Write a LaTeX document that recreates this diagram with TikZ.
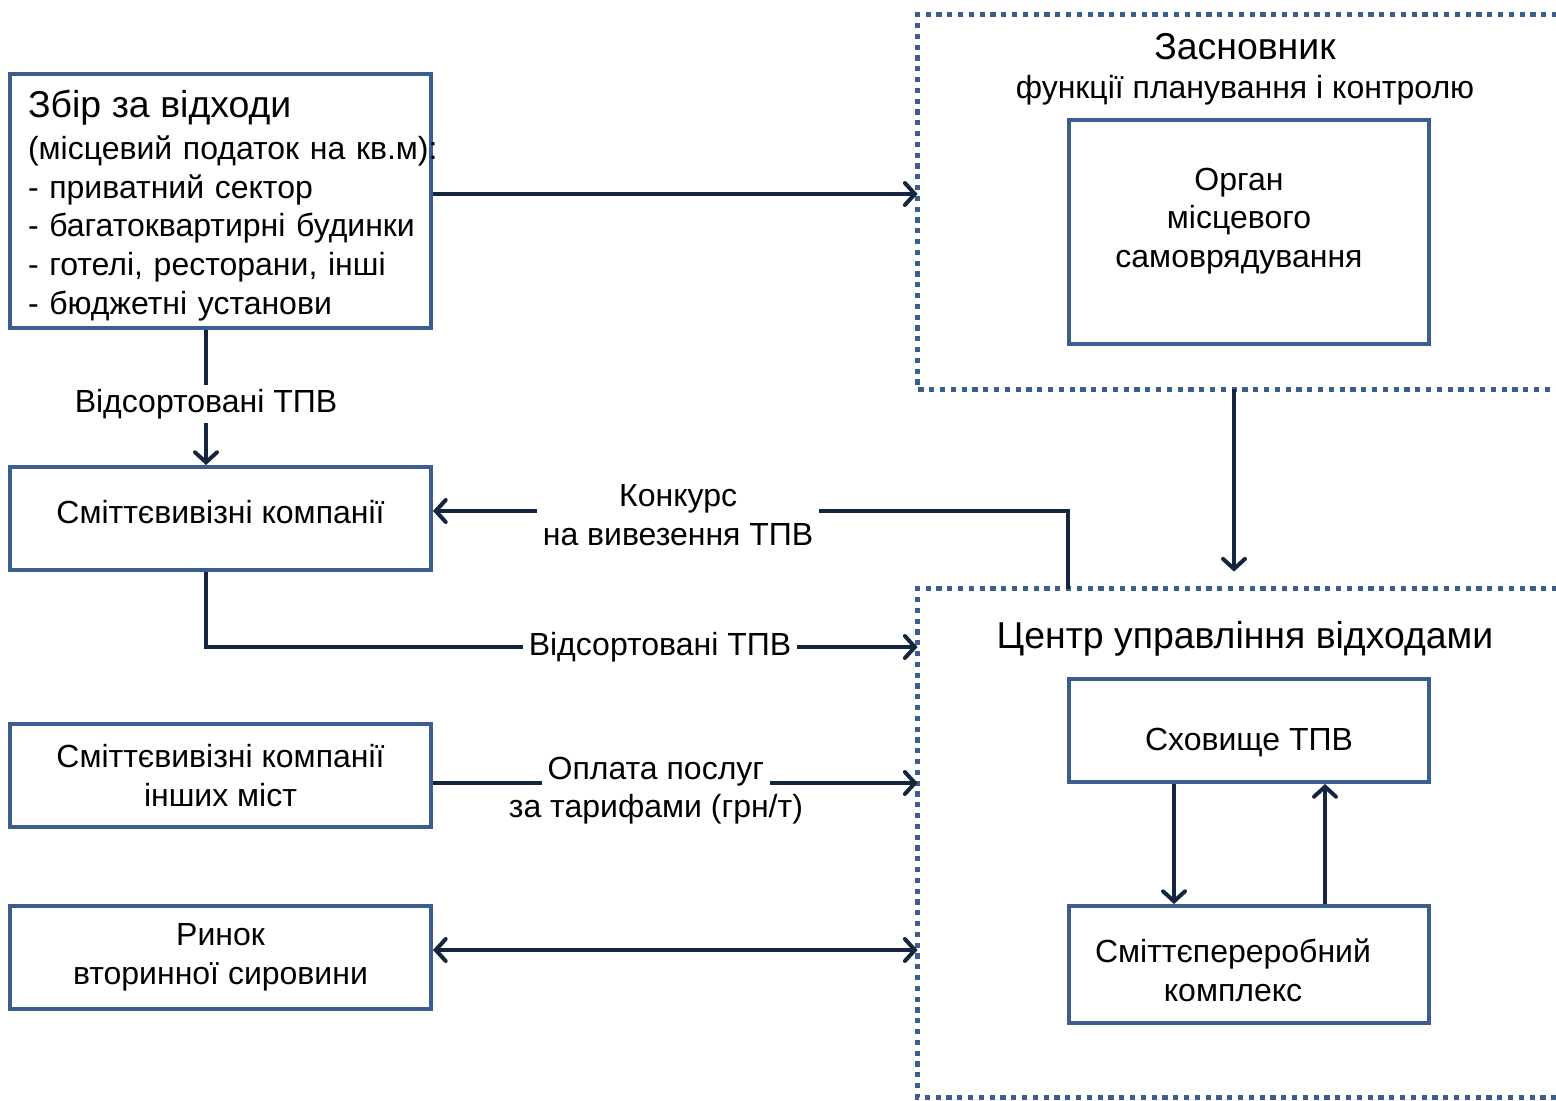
\documentclass[tikz,border=0pt]{standalone}
\usepackage{fontspec}
\setmainfont{Liberation Sans}
\usetikzlibrary{arrows.meta, positioning}

\definecolor{frameblue}{RGB}{59,94,143}
\definecolor{linknavy}{RGB}{20,37,63}

\begin{document}
\begin{tikzpicture}[
    x=0.5pt, y=-0.5pt,
    every node/.style={font=\fontsize{16}{19.3}\selectfont},
    blockbox/.style={draw=frameblue, line width=2pt, fill=white, minimum width=210.5pt, minimum height=51.5pt, align=center, inner sep=0pt},
    areabox/.style={draw=none, minimum width=341pt, inner sep=0pt},
    areaframe/.style={draw=frameblue, line width=2.5pt, dash pattern=on 2.6pt off 2.8pt},
    flowline/.style={draw=linknavy, line width=2pt, -{Straight Barb[length=5pt, width=11pt, line cap=round]}},
    twoway/.style={flowline, {Straight Barb[length=5pt, width=11pt, line cap=round]}-{Straight Barb[length=5pt, width=11pt, line cap=round]}},
    linktext/.style={fill=white, inner xsep=3pt, inner ysep=2pt, align=center},
    titlefont/.style={font=\fontsize{18.7}{22}\selectfont},
    ]

    \path[use as bounding box, clip] (0,0) rectangle (1556,1101);

    % dotted areas on the right
    \node[areabox, minimum height=187pt] (founder) at (1259,202) {};
    \node[areabox, minimum height=254pt] (centre)  at (1259,843) {};
    \draw[areaframe] (founder.north east) -- (founder.north west) -- (founder.south west) -- (founder.south east);
    \draw[areaframe] (centre.north east) -- (centre.north west) -- (centre.south west) -- (centre.south east);

    \node[align=center] (foundertitle) at (1245,69) {{\fontsize{18.7}{22}\selectfont Засновник}\\функції планування і контролю};
    \node[titlefont] (centretitle) at (1245,639) {Центр управління відходами};

    % boxes
    \node[blockbox, minimum height=127pt, text width=192.5pt, inner xsep=9pt, align=left] (zbir) at (220.5,201)
        {\mbox{\rule{0pt}{18pt}\fontsize{18.7}{22}\selectfont Збір за відходи}\\[2pt]\mbox{(місцевий податок на кв.м):}\\\mbox{- приватний сектор}\\\mbox{- багатоквартирні будинки}\\\mbox{- готелі, ресторани, інші}\\\mbox{- бюджетні установи}};
    \node[blockbox, text depth=7pt] (smit) at (220.5,518.5) {Сміттєвивізні компанії};
    \node[blockbox] (smitout) at (220.5,775.5) {Сміттєвивізні компанії\\інших міст};
    \node[blockbox] (market) at (220.5,957.5) {Ринок\\вторинної сировини};

    \node[blockbox, minimum width=180pt, minimum height=112pt] (organ) at (1249,232) {};
    \node[align=center] (organtext) at (1239,221) {Орган\\місцевого\\самоврядування};
    \node[blockbox, minimum width=180pt, text height=19.5pt, text depth=0pt] (store) at (1249,730.5) {Сховище ТПВ};
    \node[blockbox, minimum width=180pt, minimum height=58.5pt] (plant) at (1249,964.5) {};
    \node[align=center] (planttext) at (1233,970) {Сміттєпереробний\\комплекс};

    % connectors
    \coordinate (fc) at (1234,0);
    \coordinate (konk) at (1068,0);
    \coordinate (sortrow) at (0,647);

    \draw[flowline] ([yshift=3.5pt]zbir.east) -- ([yshift=3.5pt]zbir.east -| founder.west);
    \draw[flowline] ([xshift=-7.25pt]zbir.south) -- ([xshift=-7.25pt]smit.north)
        node[linktext, pos=0.55] (sorttext) {Відсортовані ТПВ};
    \draw[flowline, shorten >=8.5pt] (fc |- founder.south) -- (fc |- centre.north);
    \draw[flowline] (konk |- centre.north) |- ([yshift=3.75pt]smit.east)
        node[linktext, pos=0.807, yshift=-2pt] (konktext) {Конкурс\\на вивезення ТПВ};
    \draw[flowline] ([xshift=-7.25pt]smit.south) |- (centre.west |- sortrow)
        node[linktext, inner ysep=0pt, pos=0.819] (sorttext2) {Відсортовані ТПВ};
    \draw[flowline] ([yshift=-3.75pt]smitout.east) -- ([yshift=-3.75pt]smitout.east -| centre.west)
        node[linktext, inner ysep=0pt, pos=0.46, yshift=5.5pt, label={[name=paytext2, label distance=-1.5pt]below:за тарифами (грн/т)}] (paytext) {Оплата послуг};
    \draw[twoway] ([yshift=3.75pt]market.east) -- ([yshift=3.75pt]market.east -| centre.west);
    \draw[flowline] ([xshift=-37.5pt]store.south) -- ([xshift=-37.5pt]plant.north);
    \draw[flowline] ([xshift=38pt]plant.north) -- ([xshift=38pt]store.south);

\end{tikzpicture}
\end{document}
